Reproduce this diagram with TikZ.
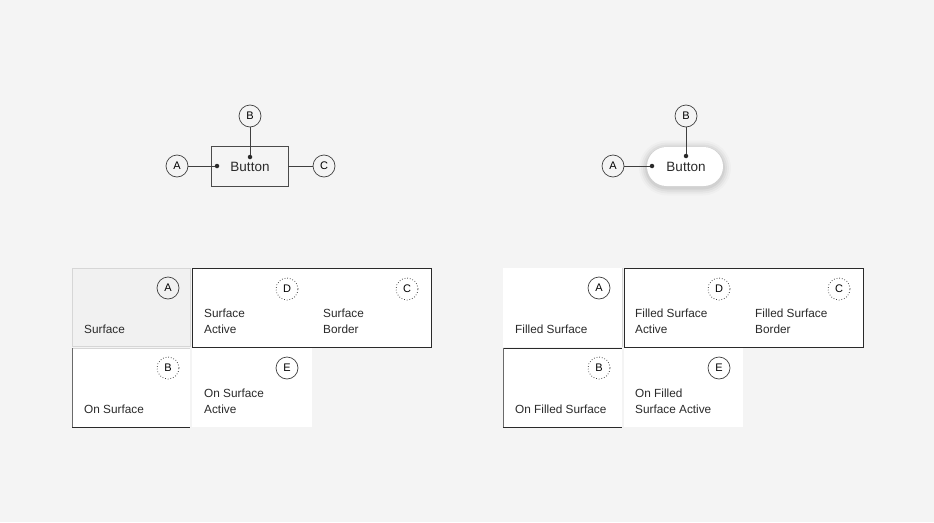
\documentclass[tikz,border=0pt]{standalone}
\usepackage{fontspec}
\setmainfont{Liberation Sans}
\usetikzlibrary{positioning}
\definecolor{bg}{HTML}{F4F4F4}
\definecolor{tilegray}{HTML}{F1F1F1}
\definecolor{edge}{HTML}{D6D6D6}
\definecolor{ink}{HTML}{2A2A2A}
\tikzset{
  tag/.style={draw=ink!90,circle,line width=0.7pt,minimum size=22pt,inner sep=0pt,font=\fontsize{11}{11}\selectfont},
  tagdot/.style={tag,dotted,line width=0.8pt},
  dot/.style={fill=ink,circle,inner sep=0pt,minimum size=4.5pt},
  lbl/.style={anchor=south west,align=left,inner sep=0pt,text=ink,font=\fontsize{11.8}{15.5}\selectfont},
  lead/.style={draw=ink!90,line width=0.8pt},
}
\begin{document}
\begin{tikzpicture}[x=1pt,y=-1pt]
    \fill[bg] (0,0) rectangle (934,522);
    \useasboundingbox (0,0) rectangle (934,522);

    % outlined button
    \node [draw=ink!85,line width=0.8pt,minimum width=77pt,minimum height=40pt] (btn1) at (249.5,166) {};
    \node [text=ink,font=\fontsize{13.5}{13.5}\selectfont] at (250,167) {Button};
    \node [tag] (a1) at (177,166) {A};
    \node [tag] (b1) at (250,116) {B};
    \node [tag] (c1) at (324,166) {C};
    \node [dot] (pa1) at (217,166) {};
    \node [dot] (pb1) at (250,157) {};

    \draw[lead] (a1) -- (pa1);
    \draw[lead] (b1) -- (pb1);
    \draw[lead] (btn1.east) -- (c1);

    % filled button
    \foreach \s/\o in {8/0.02,6/0.03,4/0.04,2/0.05}
      \fill[black,opacity=\o,rounded corners=20pt+\s pt] (647-\s,148.5-\s) rectangle (723+\s,187.5+\s);
    \node [fill=white,rounded corners=19.5pt,minimum width=76pt,minimum height=39pt] (btn2) at (685,166.5) {};
    \node [text=ink,font=\fontsize{13.5}{13.5}\selectfont] at (686,167) {Button};
    \node [tag] (a2) at (613,166) {A};
    \node [tag] (b2) at (686,116) {B};
    \node [dot] (pa2) at (652,166) {};
    \node [dot] (pb2) at (686,156) {};

    \draw[lead] (a2) -- (pa2);
    \draw[lead] (b2) -- (pb2);

    % surface tiles
    \fill[tilegray] (72,268) rectangle (190,346);
    \draw[edge,line width=0.6pt] (72,268) rectangle (190,346);
    \fill[white] (192,268) rectangle (431,347);
    \draw[ink,line width=0.8pt] (192,268) rectangle (431,347);
    \fill[white] (72,348) rectangle (190,427);
    \draw[edge,line width=0.6pt] (72,348) -- (190,348);
    \draw[ink!70,line width=0.6pt] (72,348) -- (72,427);
    \draw[ink,line width=0.8pt] (72,427) -- (190,427);
    \fill[white] (192,348) rectangle (312,427);

    \node [tag] (sa) at (168,288) {A};
    \node [tagdot] (sd) at (287,289) {D};
    \node [tagdot] (sc) at (407,289) {C};
    \node [tagdot] (sb) at (168,368) {B};
    \node [tag] (se) at (287,368) {E};

    \node [lbl] (tsa) at (84,333.5) {Surface};
    \node [lbl] (tsd) at (204,333.5) {Surface\\Active};
    \node [lbl] (tsc) at (323,333.5) {Surface\\Border};
    \node [lbl] (tsb) at (84,413.5) {On Surface};
    \node [lbl] (tse) at (204,413.5) {On Surface\\Active};

    % filled surface tiles
    \fill[white] (503,268) rectangle (622,347);
    \draw[edge,line width=0.6pt] (622,268) -- (622,347);
    \fill[white] (624,268) rectangle (863,347);
    \draw[ink,line width=0.8pt] (624,268) rectangle (863,347);
    \fill[white] (503,348) rectangle (622,427);
    \draw[ink,line width=0.8pt] (503,348) -- (622,348);
    \draw[ink!70,line width=0.6pt] (503,348) -- (503,427);
    \draw[ink,line width=0.8pt] (503,427) -- (622,427);
    \fill[white] (624,348) rectangle (743,427);

    \node [tag] (fa) at (599,288) {A};
    \node [tagdot] (fd) at (719,289) {D};
    \node [tagdot] (fc) at (839,289) {C};
    \node [tagdot] (fb) at (599,368) {B};
    \node [tag] (fe) at (719,368) {E};

    \node [lbl] (tfa) at (515,333.5) {Filled Surface};
    \node [lbl] (tfd) at (635,333.5) {Filled Surface\\Active};
    \node [lbl] (tfc) at (755,333.5) {Filled Surface\\Border};
    \node [lbl] (tfb) at (515,413.5) {On Filled Surface};
    \node [lbl] (tfe) at (635,413.5) {On Filled\\Surface Active};

\end{tikzpicture}
\end{document}
